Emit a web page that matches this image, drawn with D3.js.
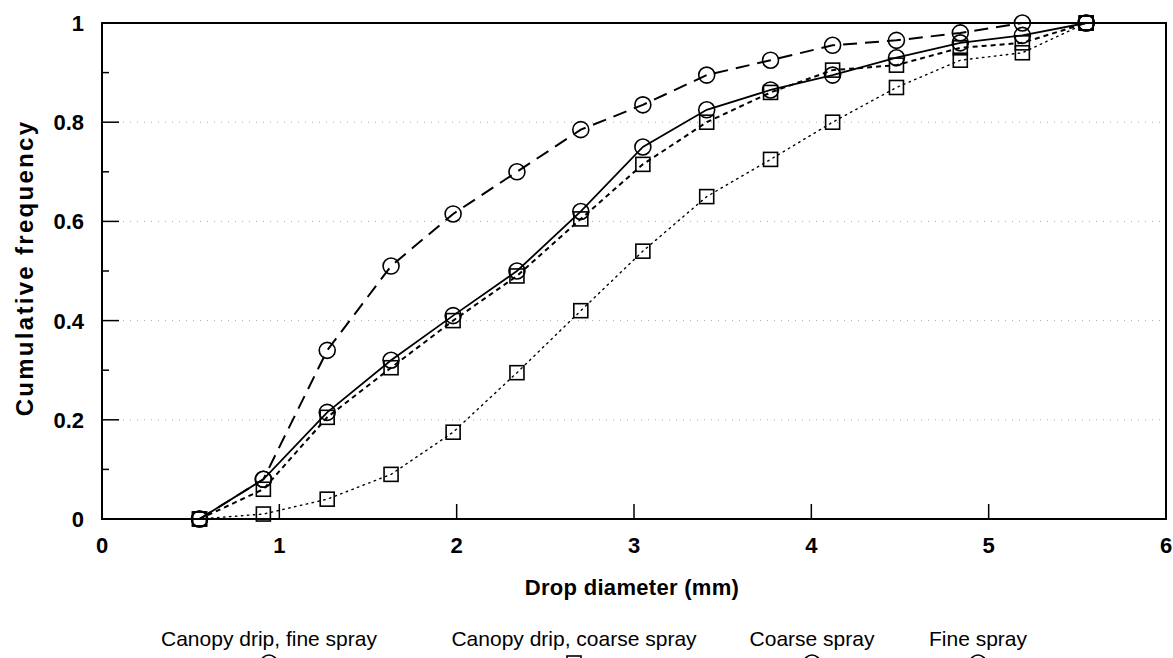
<!DOCTYPE html>
<html>
<head>
<meta charset="utf-8">
<script src="https://cdn.jsdelivr.net/npm/d3@7"></script>
<style>
  body { margin: 0; background: #fff; }
  text { font-family: "Liberation Sans", Arial, sans-serif; fill: #000; }
</style>
</head>
<body>
<svg></svg>
<script>
let width = 1173;
let height = 658;

// drop diameter (mm) of each size class
let diameters = [0.55, 0.91, 1.27, 1.63, 1.98, 2.34, 2.70, 3.05, 3.41, 3.77, 4.12, 4.48, 4.84, 5.19, 5.55];

// cumulative frequency per series
let fineSpray        = [0, 0.08, 0.34, 0.51, 0.615, 0.70, 0.785, 0.835, 0.895, 0.925, 0.955, 0.965, 0.98, 1.0, 1.0];
let coarseSpray      = [0, 0.08, 0.215, 0.32, 0.41, 0.50, 0.62, 0.75, 0.825, 0.865, 0.895, 0.93, 0.96, 0.975, 1.0];
let canopyCoarse     = [0, 0.06, 0.205, 0.305, 0.40, 0.49, 0.605, 0.715, 0.80, 0.86, 0.905, 0.915, 0.95, 0.96, 1.0];
let canopyFine       = [0, 0.01, 0.04, 0.09, 0.175, 0.295, 0.42, 0.54, 0.65, 0.725, 0.80, 0.87, 0.925, 0.94, 1.0];

let xTicks = [0, 1, 2, 3, 4, 5, 6];
let yTicks = [0, 0.2, 0.4, 0.6, 0.8, 1];
let yMinor = [0.1, 0.3, 0.5, 0.7, 0.9];

let legendNames = ["Canopy drip, fine spray", "Canopy drip, coarse spray", "Coarse spray", "Fine spray"];
let legendShapes = ["circle", "square", "circle", "circle"];

let svg = d3.select('svg')
            .attr('width', width)
            .attr('height', height);

let x = d3.scaleLinear().domain([0, 6]).range([102, 1166]);
let y = d3.scaleLinear().domain([0, 1]).range([519, 23]);

// dotted gridlines
svg.append('g')
   .selectAll('line')
   .data([0.2, 0.4, 0.6, 0.8])
   .enter()
   .append('line')
   .attr('x1', x(0)).attr('x2', x(6))
   .attr('y1', d => y(d)).attr('y2', d => y(d))
   .attr('stroke', '#aaa')
   .attr('stroke-width', 1)
   .attr('stroke-dasharray', '1,6');

// series
let series = [
  { values: canopyFine,   shape: 'square', dash: '1.5,4.5', w: 1.4 },
  { values: canopyCoarse, shape: 'square', dash: '5,4',     w: 2 },
  { values: coarseSpray,  shape: 'circle', dash: null,      w: 1.8 },
  { values: fineSpray,    shape: 'circle', dash: '14,8',    w: 2 }
];

let line = d3.line()
             .x(d => x(d[0]))
             .y(d => y(d[1]));

function drawMarker(g, shape, cx, cy) {
  if (shape === 'circle') {
    g.append('circle')
     .attr('cx', cx).attr('cy', cy).attr('r', 8)
     .attr('fill', 'none').attr('stroke', '#000').attr('stroke-width', 1.6);
  } else {
    g.append('rect')
     .attr('x', cx - 7).attr('y', cy - 7)
     .attr('width', 14).attr('height', 14)
     .attr('fill', 'none').attr('stroke', '#000').attr('stroke-width', 1.6);
  }
}

series.forEach(function(s) {
  let pts = diameters.map((d, i) => [d, s.values[i]]);
  svg.append('path')
     .datum(pts)
     .attr('d', line)
     .attr('fill', 'none')
     .attr('stroke', '#000')
     .attr('stroke-width', s.w)
     .attr('stroke-dasharray', s.dash)
     .attr('stroke-linecap', s.dash === '1.5,4.5' ? 'round' : 'butt');
  let g = svg.append('g');
  pts.forEach(p => drawMarker(g, s.shape, x(p[0]), y(p[1])));
});

// frame
svg.append('rect')
   .attr('x', x(0)).attr('y', y(1))
   .attr('width', x(6) - x(0)).attr('height', y(0) - y(1))
   .attr('fill', 'none')
   .attr('stroke', '#000')
   .attr('stroke-width', 2);

// y ticks (inside)
let yAxis = svg.append('g');
yAxis.selectAll('line.major')
     .data(yTicks)
     .enter()
     .append('line')
     .attr('x1', x(0)).attr('x2', x(0) + 17)
     .attr('y1', d => y(d)).attr('y2', d => y(d))
     .attr('stroke', '#000').attr('stroke-width', 1.5);
yAxis.selectAll('line.minor')
     .data(yMinor)
     .enter()
     .append('line')
     .attr('x1', x(0)).attr('x2', x(0) + 7)
     .attr('y1', d => y(d)).attr('y2', d => y(d))
     .attr('stroke', '#000').attr('stroke-width', 1.5);
yAxis.selectAll('text')
     .data(yTicks)
     .enter()
     .append('text')
     .attr('x', 84)
     .attr('y', d => y(d) + 8)
     .attr('text-anchor', 'end')
     .attr('font-size', 22)
     .attr('font-weight', 'bold')
     .text(d => d === 0 || d === 1 ? d : d3.format('.1f')(d));

// x ticks (inside)
let xAxis = svg.append('g');
xAxis.selectAll('line')
     .data(xTicks.slice(1, 6))
     .enter()
     .append('line')
     .attr('x1', d => x(d)).attr('x2', d => x(d))
     .attr('y1', y(0)).attr('y2', y(0) - 15)
     .attr('stroke', '#000').attr('stroke-width', 1.5);
xAxis.selectAll('text')
     .data(xTicks)
     .enter()
     .append('text')
     .attr('x', d => x(d))
     .attr('y', 553)
     .attr('text-anchor', 'middle')
     .attr('font-size', 22)
     .attr('font-weight', 'bold')
     .text(d => d);

// axis titles
svg.append('text')
   .attr('x', 632)
   .attr('y', 595)
   .attr('text-anchor', 'middle')
   .attr('font-size', 22)
   .attr('font-weight', 'bold')
   .attr('letter-spacing', 0.3)
   .text('Drop diameter (mm)');

svg.append('text')
   .attr('transform', 'translate(33,268) rotate(-90)')
   .attr('text-anchor', 'middle')
   .attr('font-size', 24)
   .attr('font-weight', 'bold')
   .attr('letter-spacing', 2.3)
   .text('Cumulative frequency');

// legend
let legendX = [269, 574, 812, 978];
let legend = svg.append('g');
legendNames.forEach(function(name, i) {
  legend.append('text')
        .attr('x', legendX[i])
        .attr('y', 646)
        .attr('text-anchor', 'middle')
        .attr('font-size', 21)
        .text(name);
  drawMarker(legend, legendShapes[i], legendX[i], 663);
});
</script>
</body>
</html>
